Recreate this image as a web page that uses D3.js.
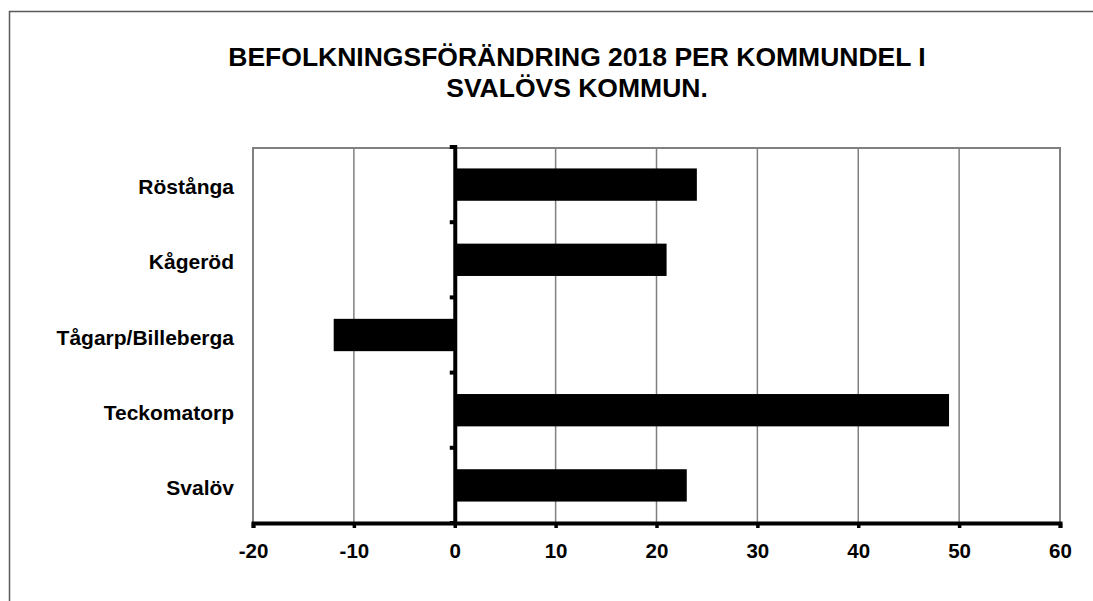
<!DOCTYPE html>
<html>
<head>
<meta charset="utf-8">
<script src="https://cdn.jsdelivr.net/npm/d3@7"></script>
<style>
  html, body { margin: 0; padding: 0; background: #fff; }
  svg { display: block; font-family: Arial, "Liberation Sans", sans-serif; }
</style>
</head>
<body>
<svg id="chart" width="1093" height="601"></svg>
<script>
const titleLines = ["BEFOLKNINGSFÖRÄNDRING 2018 PER KOMMUNDEL I", "SVALÖVS KOMMUN."];
const categories = ["Röstånga", "Kågeröd", "Tågarp/Billeberga", "Teckomatorp", "Svalöv"];
const values = [24, 21, -12, 49, 23];
const xTicks = [-20, -10, 0, 10, 20, 30, 40, 50, 60];

const svg = d3.select("#chart");
const plot = { left: 253, right: 1060, top: 147, bottom: 523 };

svg.append("rect").attr("width", 1093).attr("height", 601).attr("fill", "#fff");
// outer chart border (extends beyond window on right/bottom)
svg.append("rect")
  .attr("x", 9.5).attr("y", 11.5).attr("width", 1200).attr("height", 700)
  .attr("fill", "none").attr("stroke", "#5a5a5a").attr("stroke-width", 1.5);

// title
svg.selectAll("text.title").data(titleLines).join("text").attr("class", "title")
  .attr("x", 577).attr("y", (d, i) => 66 + i * 31)
  .attr("text-anchor", "middle").attr("font-weight", "bold").attr("font-size", 26.5)
  .attr("fill", "#000").text(d => d);

const x = d3.scaleLinear().domain([xTicks[0], xTicks[xTicks.length - 1]]).range([plot.left, plot.right]);
const y = d3.scaleBand().domain(categories).range([plot.top, plot.bottom])
  .paddingInner(0.57).paddingOuter(0.285);

// gridlines
svg.append("g").selectAll("line").data(xTicks.filter(d => d !== 0)).join("line")
  .attr("x1", d => x(d)).attr("x2", d => x(d))
  .attr("y1", plot.top).attr("y2", plot.bottom)
  .attr("stroke", "#808080").attr("stroke-width", 1.5);

// plot border
svg.append("rect")
  .attr("x", plot.left).attr("y", plot.top + 1)
  .attr("width", plot.right - plot.left).attr("height", plot.bottom - plot.top - 1)
  .attr("fill", "none").attr("stroke", "#808080").attr("stroke-width", 2);

// bars
svg.append("g").selectAll("rect").data(categories).join("rect")
  .attr("x", (d, i) => x(Math.min(0, values[i])))
  .attr("width", (d, i) => Math.abs(x(values[i]) - x(0)))
  .attr("y", d => y(d))
  .attr("height", y.bandwidth())
  .attr("fill", "#000");

// category labels
svg.append("g").selectAll("text").data(categories).join("text")
  .attr("x", 234)
  .attr("y", d => y(d) + y.bandwidth() / 2 + 2)
  .attr("dy", "0.36em")
  .attr("text-anchor", "end").attr("font-weight", "bold").attr("font-size", 21)
  .attr("fill", "#000").text(d => d);

// x axis
const xAxis = svg.append("g").attr("transform", `translate(0,${plot.bottom})`)
  .call(d3.axisBottom(x).tickValues(xTicks).tickSize(5).tickPadding(15).tickFormat(d => String(d)));
xAxis.select(".domain").attr("stroke", "#000").attr("stroke-width", 4);
xAxis.selectAll(".tick line").attr("stroke", "#000").attr("stroke-width", 3.5);
xAxis.selectAll(".tick text").attr("font-size", 20.5).attr("font-weight", "bold")
  .attr("font-family", "Arial, 'Liberation Sans', sans-serif").attr("fill", "#000");

// y axis at zero with boundary ticks
const step = y.step();
const bounds = categories.map(c => y(c) - step * y.paddingInner() / 2).concat([plot.bottom]);
const yAxis = svg.append("g");
yAxis.selectAll("line.tk").data(bounds).join("line").attr("class", "tk")
  .attr("x1", x(0) - 5).attr("x2", x(0))
  .attr("y1", d => d).attr("y2", d => d)
  .attr("stroke", "#000").attr("stroke-width", 4);
yAxis.append("line")
  .attr("x1", x(0) + 0.5).attr("x2", x(0) + 0.5)
  .attr("y1", plot.top - 2).attr("y2", plot.bottom)
  .attr("stroke", "#000").attr("stroke-width", 4);
</script>
</body>
</html>
